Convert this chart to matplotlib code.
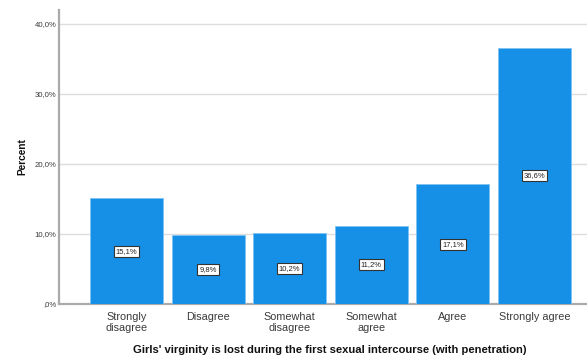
import matplotlib
matplotlib.use("Agg")
import matplotlib.pyplot as plt

categories = ["Strongly\ndisagree", "Disagree", "Somewhat\ndisagree",
              "Somewhat\nagree", "Agree", "Strongly agree"]
percents = [15.1, 9.8, 10.2, 11.2, 17.1, 36.6]
y_ticks = [0, 10, 20, 30, 40]
y_tick_labels = [",0%", "10,0%", "20,0%", "30,0%", "40,0%"]

plt.rcParams["font.family"] = ["Liberation Sans", "DejaVu Sans"]

fig = plt.figure(figsize=(5.87, 3.56), dpi=100)
ax = fig.add_axes([59 / 587, 1 - 304 / 356, 1 - 59 / 587, (304 - 10) / 356])

bar_color = "#1590e6"
x = list(range(len(categories)))
ax.bar(x, percents, width=0.895, color=bar_color, edgecolor="#7cc3f5",
       linewidth=0.6, zorder=3)

for xi, v in zip(x, percents):
    ax.text(xi, v / 2, f"{v:.1f}%".replace(".", ","), ha="center", va="center",
            fontsize=5.5, color="#222222", zorder=4,
            bbox=dict(boxstyle="square,pad=0.25", facecolor="white",
                      edgecolor="#333333", linewidth=0.8))

ax.set_xlim(-0.827, 5.643)
ax.set_ylim(0, 42)
ax.set_yticks(y_ticks)
ax.set_yticklabels(y_tick_labels, fontsize=5.6, color="#3a3a3a")
ax.set_xticks(x)
ax.set_xticklabels(categories, fontsize=7.8, color="#3a3a3a", linespacing=1.05)
ax.tick_params(axis="x", length=0, pad=6)
ax.tick_params(axis="y", length=0, pad=2)

ax.grid(axis="y", color="#dddddd", linewidth=1, zorder=0)
for side in ("top", "right"):
    ax.spines[side].set_visible(False)
for side in ("left", "bottom"):
    ax.spines[side].set_color("#aaaaaa")
    ax.spines[side].set_linewidth(1.6)

ax.set_ylabel("Percent", fontsize=7.3, fontweight="bold", labelpad=5, color="#111111")
ax.set_xlabel("Girls' virginity is lost during the first sexual intercourse (with penetration)",
              fontsize=8.1, fontweight="bold", color="#111111", labelpad=9)
ax.xaxis.label.set_x(0.513)

fig.savefig("out.png", dpi=100)
